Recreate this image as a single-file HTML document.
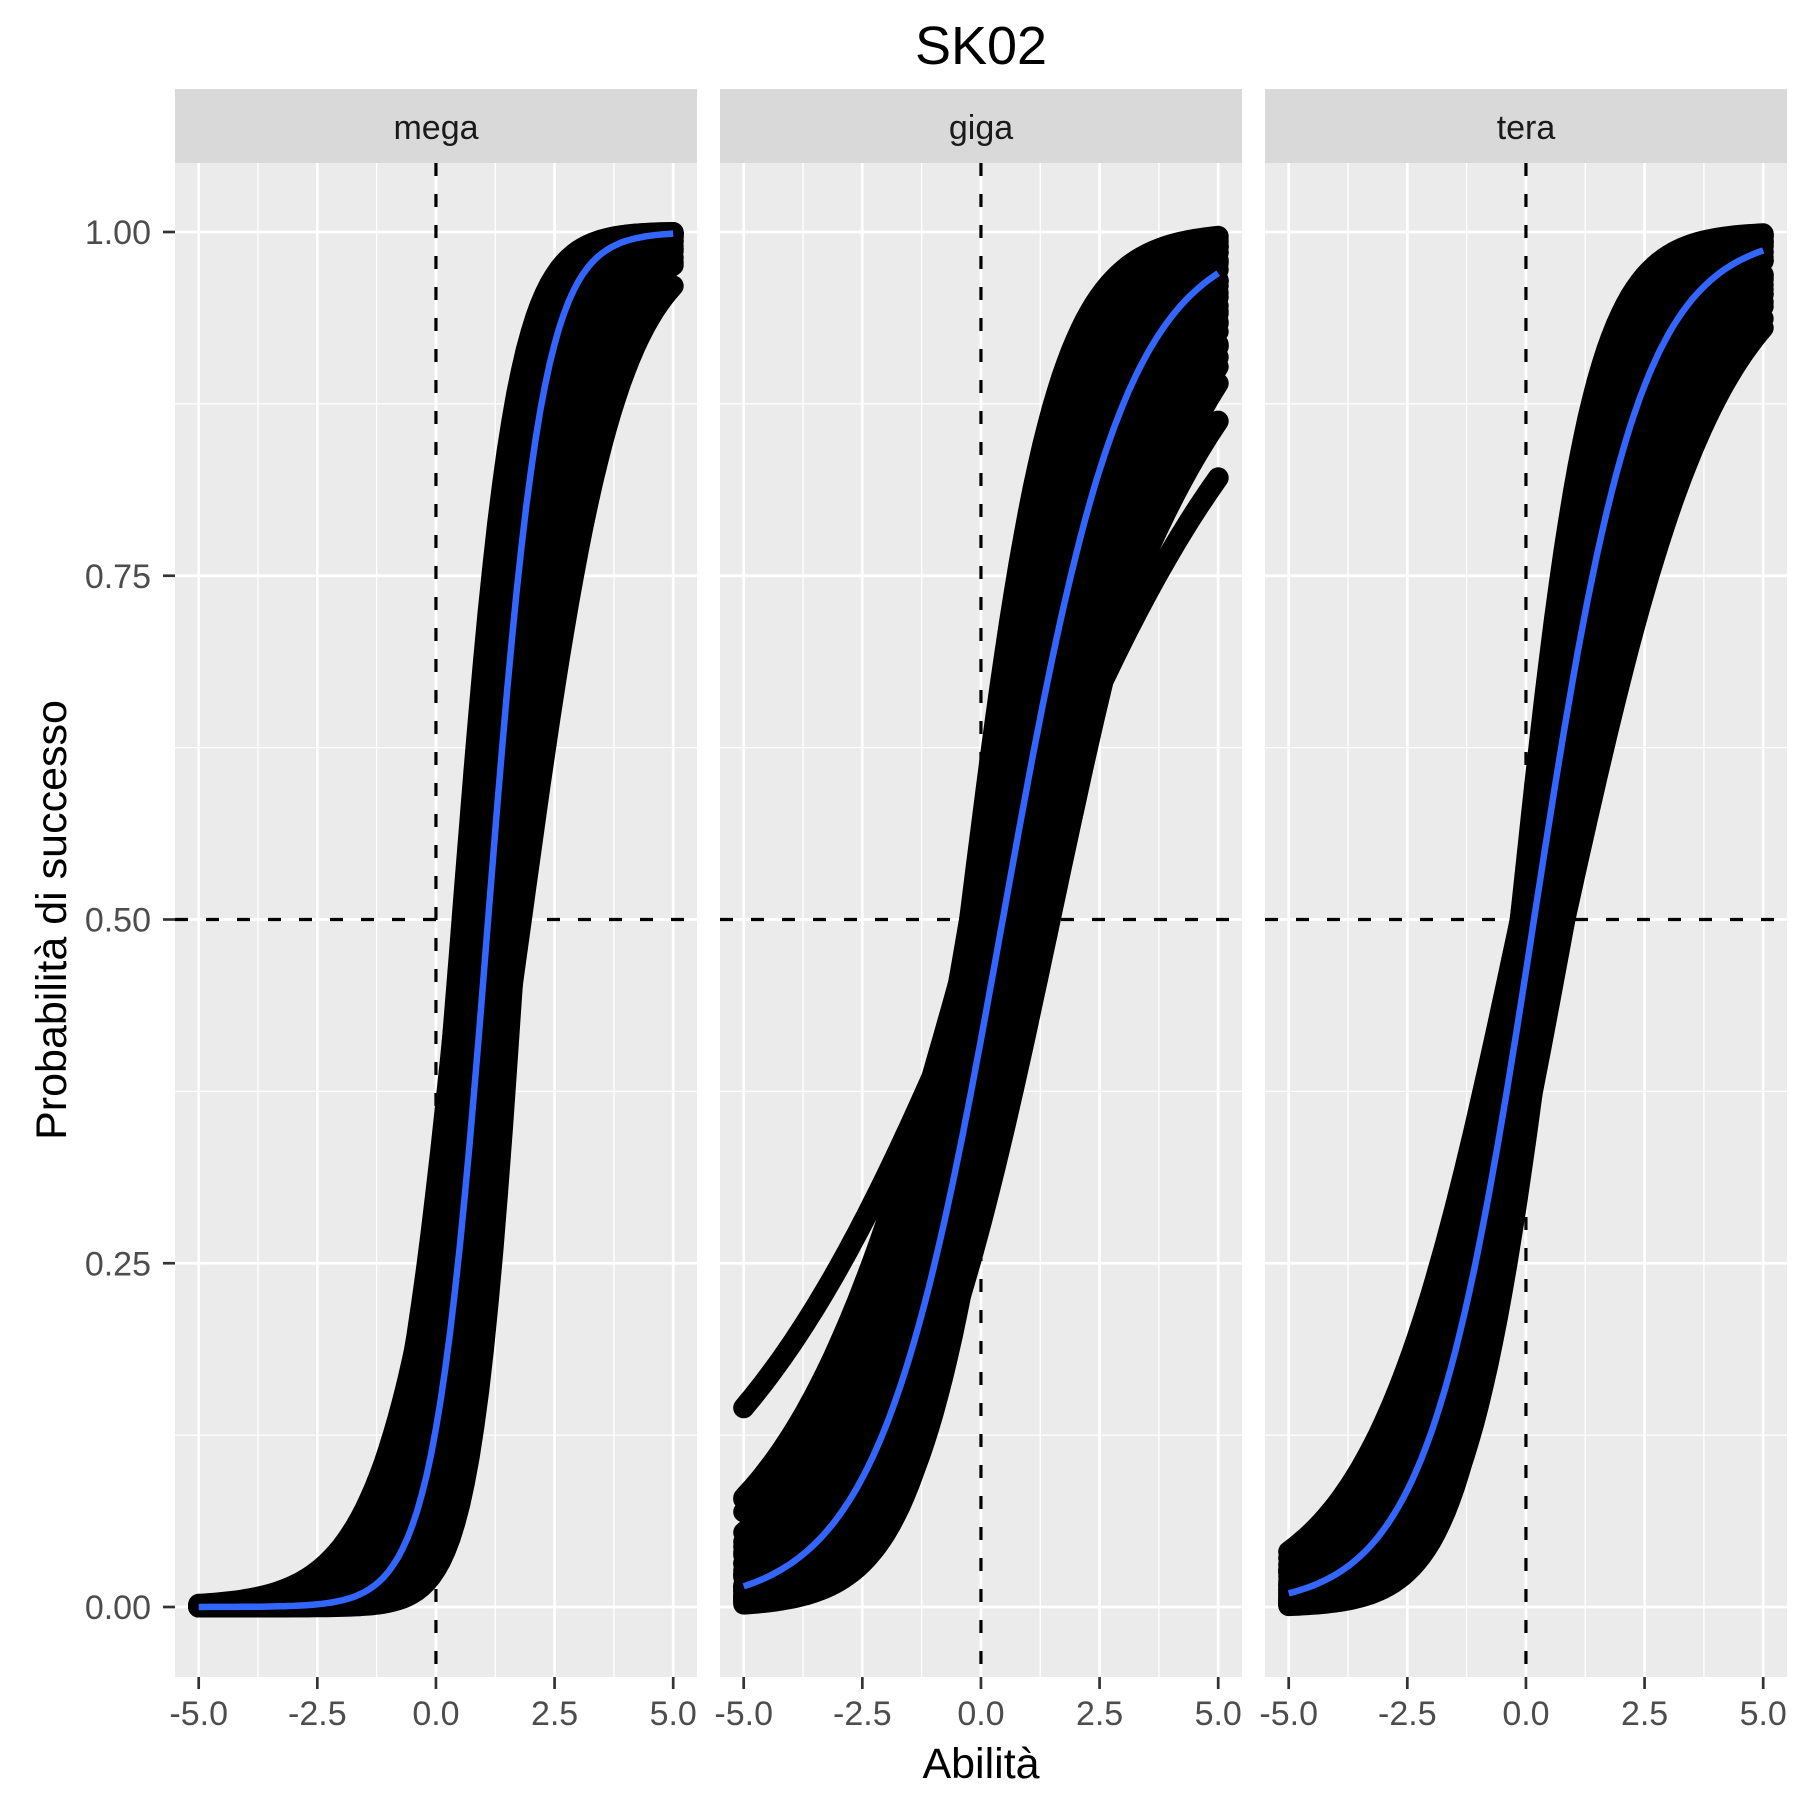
<!DOCTYPE html>
<html><head><meta charset="utf-8">
<style>
html,body{margin:0;padding:0;background:#fff}
svg{display:block}
text{font-family:"Liberation Sans",Arial,sans-serif}
</style></head>
<body>
<svg id="chart" width="1800" height="1800" viewBox="0 0 1800 1800" xmlns="http://www.w3.org/2000/svg">
<text x="981" y="64" font-size="54" text-anchor="middle" fill="#000">SK02</text>
<text x="981" y="1778" font-size="43" text-anchor="middle" fill="#000">Abilità</text>
<text transform="translate(66,920) rotate(-90)" font-size="43" text-anchor="middle" fill="#000">Probabilità di successo</text>
<g id="panels"></g>
</svg>
<script>
// ---- data ----
const panelNames = ["mega", "giga", "tera"];
const xTicks = [-5, -2.5, 0, 2.5, 5];
const xTickLabels = ["-5.0", "-2.5", "0.0", "2.5", "5.0"];
const yTicks = [0, 0.25, 0.5, 0.75, 1];
const yTickLabels = ["0.00", "0.25", "0.50", "0.75", "1.00"];
// paired (discrimination, difficulty) parameters of simulated curves per panel
const megaA = [1.75, 1.6, 1.45, 1.3, 1.2, 1.1, 1.0, 1.2, 1.1, 1.0, 1.4, 1.05, 2.0, 1.9, 1.8, 2.1, 1.6, 1.5, 1.35, 1.2, 1.9];
const megaB = [0.55, 0.75, 0.95, 1.15, 1.35, 1.55, 1.8, 0.8, 1.0, 1.3, 0.6, 0.95, 1.45, 1.2, 1.0, 1.7, 1.5, 1.25, 1.6, 1.7, 0.8];
const gigaA = [0.5, 0.5, 0.55, 0.6, 0.65, 0.6, 0.7, 0.8, 0.8, 0.9, 1.0, 1.1, 1.0, 0.75, 0.7, 0.65, 0.33, 0.43,
               1.1, 1.0, 1.0, 0.55, 0.6, 0.65, 0.7, 0.75, 0.85, 0.9, 0.8, 0.95, 0.6, 0.7, 0.55];
const gigaB = [-0.1, 0.2, 0.6, 1.0, 1.46, 1.3, 0.3, -0.24, 0.3, 0.0, -0.1, -0.24, 0.4, 0.9, 1.2, -0.1, 0.38, 0.73,
               0.6, 0.5, 0.8, 0.2, 0.4, 0.7, 0.9, 0.6, 0.5, 0.7, 1.0, 0.2, 0.0, -0.1, 1.2];
const teraA = [0.65, 0.75, 0.9, 1.1, 1.3, 1.3, 1.3, 1.1, 0.9, 0.75, 0.62, 0.7, 0.8, 0.65, 1.0, 0.9, 0.75,
               1.2, 1.0, 0.85, 1.2, 1.0, 0.85, 0.7, 0.8, 0.65, 1.1, 0.7, 0.6, 0.7];
const teraB = [-0.12, -0.12, -0.12, -0.12, -0.12, 0.1, 0.3, 0.4, 0.6, 0.82, 0.82, 0.4, 0.2, 0.3, 0.15, 0.3, 0.5,
               0.0, -0.05, 0.05, 0.25, 0.45, 0.45, 0.65, 0.7, 0.6, 0.6, 0.1, 0.5, 0.82];
// mean (blue) curve parameters
const meanA = [1.73, 0.766, 0.89];
const meanB = [1.1, 0.46, 0.17];

// ---- layout ----
const NS = "http://www.w3.org/2000/svg";
const panelLeft = [175, 720, 1265];
const panelW = 522, plotTop = 163, plotBot = 1677, stripTop = 89;
function xScale(p, v){ return panelLeft[p] + 23.7 + (v + 5) * 47.45; }
function yScale(v){ return 1607 - v * 1375; }
function mk(tag, attrs, parent){ const e = document.createElementNS(NS, tag); for (const k in attrs) e.setAttribute(k, attrs[k]); parent.appendChild(e); return e; }
function prob(a, b, t){ return 1 / (1 + Math.exp(-a * (t - b))); }
function curvePts(p, a, b){
  const pts = [];
  for (let i = 0; i <= 100; i++){ const t = -5 + i * 0.1; pts.push(xScale(p, t).toFixed(1) + "," + yScale(prob(a, b, t)).toFixed(1)); }
  return pts.join(" ");
}
const root = document.getElementById("panels");
const bandA = [megaA, gigaA, teraA], bandB = [megaB, gigaB, teraB];

for (let p = 0; p < 3; p++){
  const L = panelLeft[p];
  const g = mk("g", {}, root);
  
  
  const bg = mk("rect", {x:L, y:plotTop, width:panelW, height:plotBot-plotTop, fill:"#EBEBEB"}, g);
  
  
  for (let i = 0; i < xTicks.length - 1; i++){
    const x = xScale(p, (xTicks[i] + xTicks[i+1]) / 2);
    mk("line", {x1:x, x2:x, y1:plotTop, y2:plotBot, stroke:"#fff", "stroke-width":1.3}, g);
  }
  for (let i = 0; i < yTicks.length - 1; i++){
    const y = yScale((yTicks[i] + yTicks[i+1]) / 2);
    mk("line", {x1:L, x2:L+panelW, y1:y, y2:y, stroke:"#fff", "stroke-width":1.3}, g);
  }
  xTicks.forEach(v => { const x = xScale(p, v); mk("line", {x1:x, x2:x, y1:plotTop, y2:plotBot, stroke:"#fff", "stroke-width":2.7}, g); });
  yTicks.forEach(v => { const y = yScale(v); mk("line", {x1:L, x2:L+panelW, y1:y, y2:y, stroke:"#fff", "stroke-width":2.7}, g); });
  const st = mk("rect", {x:L, y:stripTop, width:panelW, height:plotTop-stripTop, fill:"#D9D9D9"}, g);
  
  
  const stt = mk("text", {x:L+panelW/2, y:139, "font-size":34, "text-anchor":"middle", fill:"#1A1A1A"}, g);
  stt.textContent = panelNames[p];
  
  
  const vx = xScale(p, 0);
  const vl = mk("line", {x1:vx, x2:vx, y1:plotTop, y2:plotBot, stroke:"#000", "stroke-width":3.2, "stroke-dasharray":"13,18"}, g);
  
  
  const hy = yScale(0.5);
  const hl = mk("line", {x1:L, x2:L+panelW, y1:hy, y2:hy, stroke:"#000", "stroke-width":3.2, "stroke-dasharray":"13,18"}, g);
  
  
  const band = mk("g", {fill:"none", stroke:"#000", "stroke-width":21, "stroke-linecap":"round", "stroke-linejoin":"round"}, g);
  
  
  bandA[p].forEach((a, i) => {
    const pl = mk("polyline", {points: curvePts(p, a, bandB[p][i])}, band);
    
    
  });
  const mc = mk("polyline", {points: curvePts(p, meanA[p], meanB[p]), fill:"none", stroke:"#3366FF", "stroke-width":6.5}, g);
  
  
  xTicks.forEach((v, i) => {
    const x = xScale(p, v);
    mk("line", {x1:x, x2:x, y1:plotBot, y2:plotBot+12, stroke:"#333", "stroke-width":2.7}, g);
    const t = mk("text", {x:x, y:1725, "font-size":34, "text-anchor":"middle", fill:"#4D4D4D"}, g);
    t.textContent = xTickLabels[i];
    
    
  });
  if (p === 0){
    yTicks.forEach((v, i) => {
      const y = yScale(v);
      mk("line", {x1:L-12, x2:L, y1:y, y2:y, stroke:"#333", "stroke-width":2.7}, g);
      const t = mk("text", {x:151, y:y+12, "font-size":34, "text-anchor":"end", fill:"#4D4D4D"}, g);
      t.textContent = yTickLabels[i];
      
      
    });
  }
}
</script>
</body></html>
